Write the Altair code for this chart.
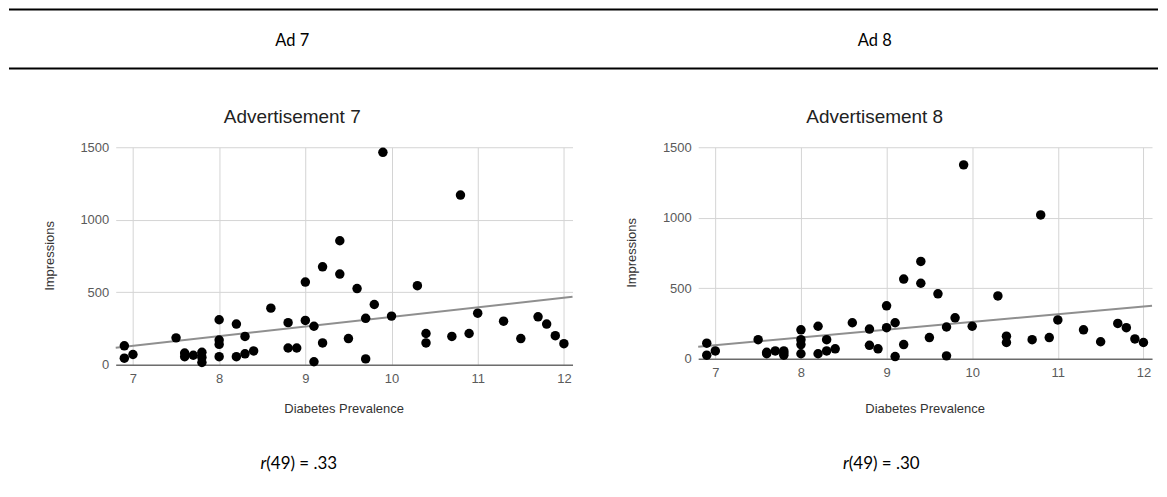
import altair as alt
import pandas as pd

# ---- data ----
diabetes = [6.9, 6.9, 7.0, 7.5, 7.6, 7.6, 7.7, 7.8, 7.8, 7.8,
            8.0, 8.0, 8.0, 8.0, 8.2, 8.3, 8.2, 8.3, 8.4, 8.6,
            8.8, 8.8, 8.9, 9.0, 9.0, 9.1, 9.1, 9.2, 9.2, 9.4,
            9.4, 9.5, 9.6, 9.7, 9.7, 9.8, 9.9, 10.0, 10.3, 10.4,
            10.4, 10.7, 10.8, 10.9, 11.0, 11.3, 11.5, 11.7, 11.8, 11.9, 12.0]
ad7 = [130, 45, 70, 185, 80, 55, 65, 85, 50, 15,
       310, 170, 140, 55, 280, 195, 55, 75, 95, 390,
       290, 115, 115, 570, 305, 265, 20, 675, 150, 855,
       625, 180, 525, 320, 40, 415, 1465, 335, 545, 215,
       150, 195, 1170, 215, 355, 300, 180, 330, 280, 200, 145]
ad8 = [110, 25, 55, 135, 45, 35, 55, 55, 25, 40,
       205, 135, 100, 35, 230, 135, 35, 55, 70, 255,
       210, 95, 70, 375, 220, 255, 15, 565, 100, 690,
       535, 150, 460, 225, 20, 290, 1375, 230, 445, 160,
       115, 135, 1020, 150, 275, 205, 120, 250, 220, 140, 115]

headers = ["Ad 7", "Ad 8"]
titles = ["Advertisement 7", "Advertisement 8"]
r_values = ["(49) = .33", "(49) = .30"]
x_ticks = [7, 8, 9, 10, 11, 12]
y_ticks = [0, 500, 1000, 1500]
x_title = "Diabetes Prevalence"
y_title = "Impressions"

CHART_FONT = "Liberation Sans"
DOC_FONT = "Lato"


def text_layer(txt, x, y, **kw):
    return alt.Chart(pd.DataFrame({"t": [txt]})).mark_text(**kw).encode(
        text="t:N", x=alt.value(x), y=alt.value(y))


def panel(values, idx, width, height, with_rules):
    df = pd.DataFrame({"prev": diabetes, "imp": values})
    xenc = alt.X("prev:Q",
                 scale=alt.Scale(domain=[6.8, 12.1], nice=False, zero=False),
                 axis=alt.Axis(values=x_ticks, title=None, ticks=False,
                               domain=True, domainColor="#333333", domainWidth=1,
                               labelPadding=8, labelFontSize=13, labelColor="#5a5a5a",
                               labelFont=CHART_FONT, labelFlush=False, format="d",
                               grid=True, gridColor="#d4d4d4"))
    yenc = alt.Y("imp:Q",
                 scale=alt.Scale(domain=[0, 1500], nice=False),
                 axis=alt.Axis(values=y_ticks, title=None, ticks=False, domain=False,
                               labelPadding=7, labelFontSize=13, labelColor="#5a5a5a",
                               labelFont=CHART_FONT, format="d",
                               grid=True, gridColor="#d4d4d4"))
    reg = alt.Chart(df).transform_regression(
        "prev", "imp", extent=[6.8, 12.1]
    ).mark_line(color="#8f8f8f", strokeWidth=2).encode(x=xenc, y=yenc)
    pts = alt.Chart(df).mark_circle(size=90, color="black", opacity=1).encode(x=xenc, y=yenc)

    layers = [reg, pts]
    layers.append(text_layer(titles[idx], 177, -30, font=CHART_FONT, fontSize=19,
                             color="#222222", align="center", baseline="middle"))
    layers.append(text_layer(y_title, -66, height / 2, font=CHART_FONT, fontSize=13,
                             color="#333333", align="center", baseline="middle", angle=270))
    layers.append(text_layer(x_title, width / 2, 262, font=CHART_FONT, fontSize=13,
                             color="#333333", align="center", baseline="middle"))
    layers.append(text_layer(headers[idx], 177, -107, font=DOC_FONT, fontSize=16.5,
                             color="#000000", align="center", baseline="middle"))
    layers.append(text_layer("r", 151, 318, font=DOC_FONT, fontSize=17, fontStyle="italic",
                             color="#000000", align="right", baseline="middle"))
    layers.append(text_layer(r_values[idx], 151, 318, font=DOC_FONT, fontSize=17,
                             color="#000000", align="left", baseline="middle"))
    if with_rules:
        for yy in [-138, -79]:
            layers.append(
                alt.Chart(pd.DataFrame({"a": [0]})).mark_rule(color="#000000", strokeWidth=2)
                .encode(x=alt.value(-107), x2=alt.value(1045), y=alt.value(yy))
            )
    return alt.layer(*layers).properties(width=width, height=height)


p1 = panel(ad7, 0, 458, 218, True)
p2 = panel(ad8, 1, 455, 212, False)

chart = alt.hconcat(p1, p2, spacing=126, bounds="flush").properties(
    padding=0
).configure_view(stroke=None)

chart.save("out.html", embed_options={"renderer": "svg", "actions": False})
